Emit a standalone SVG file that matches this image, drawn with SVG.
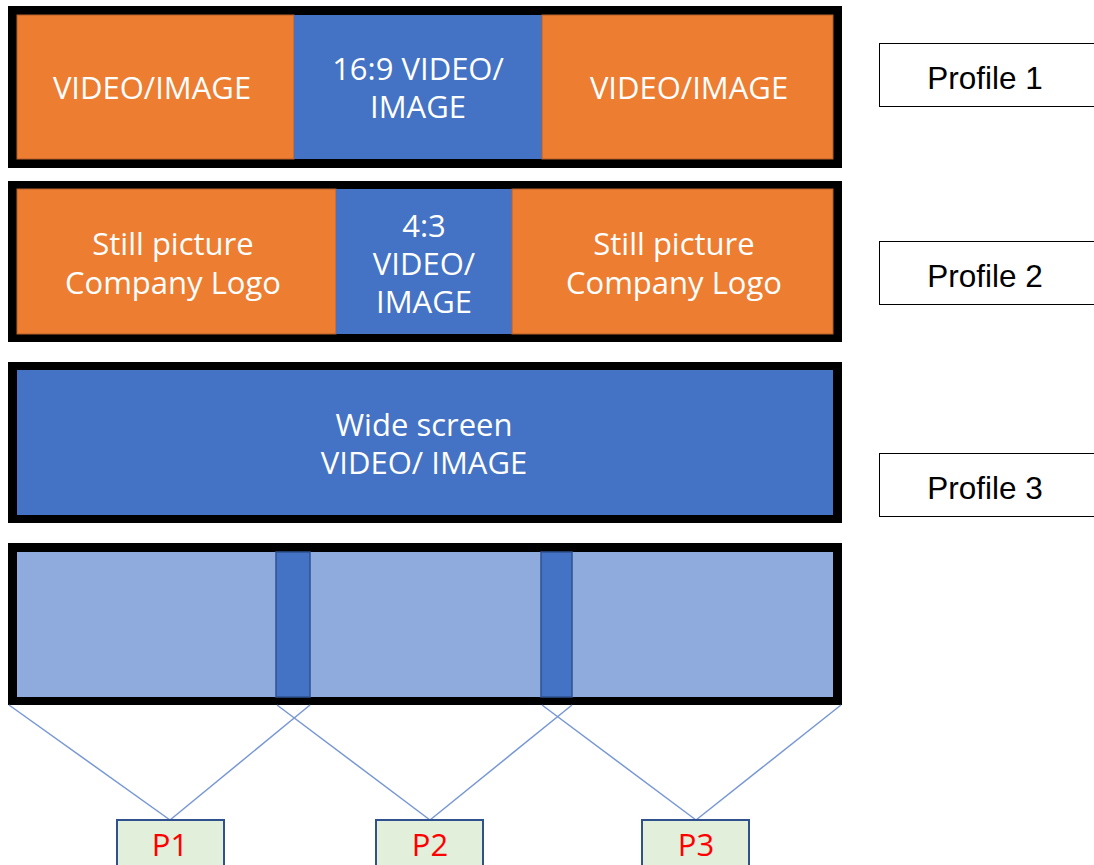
<svg xmlns="http://www.w3.org/2000/svg" width="1094" height="865" viewBox="0 0 1094 865">
<style>
.frame{fill:#000}
.org{fill:#ed7d31;stroke:#b5602a;stroke-width:1}
.blu{fill:#4472c4}
.lb{fill:#8faadc}
.strip{fill:#4472c4;stroke:#2f528f;stroke-width:1.5}
.t{font-family:"Open Sans","Noto Sans",sans-serif;font-size:31px;fill:#fff;text-anchor:middle}
.prof{fill:#fff;stroke:#000;stroke-width:1}
.pt{font-family:"Liberation Sans",Arial,sans-serif;font-size:31.5px;fill:#000;text-anchor:middle}
.pbox{fill:#e2efda;stroke:#2f528f;stroke-width:2}
.ptxt{font-family:"Open Sans","Noto Sans",sans-serif;font-size:31px;fill:#ff0000;text-anchor:middle}
.conn{stroke:#7898d4;stroke-width:1.5;fill:none}
</style>
<rect width="1094" height="865" fill="#fff"/>
<g id="profile1-screen">
<rect class="frame" x="8" y="6" width="834" height="162"/>
<rect class="org" x="17" y="15" width="277" height="144"/>
<rect class="blu" x="294" y="15" width="248" height="144"/>
<rect class="org" x="542" y="15" width="291" height="144"/>
<text class="t" x="152" y="99">VIDEO/IMAGE</text>
<text class="t" x="418" y="80">16:9 VIDEO/</text>
<text class="t" x="418" y="118">IMAGE</text>
<text class="t" x="689" y="99">VIDEO/IMAGE</text>
</g>
<g id="profile2-screen">
<rect class="frame" x="8" y="181" width="834" height="161"/>
<rect class="org" x="17" y="189" width="319" height="145"/>
<rect class="blu" x="336" y="189" width="176" height="145"/>
<rect class="org" x="512" y="189" width="321" height="145"/>
<text class="t" x="173" y="255">Still picture</text>
<text class="t" x="173" y="294">Company Logo</text>
<text class="t" x="424" y="237">4:3</text>
<text class="t" x="424" y="275">VIDEO/</text>
<text class="t" x="424" y="313">IMAGE</text>
<text class="t" x="674" y="255">Still picture</text>
<text class="t" x="674" y="294">Company Logo</text>
</g>
<g id="profile3-screen">
<rect class="frame" x="8" y="362" width="834" height="161"/>
<rect class="blu" x="17" y="370" width="816" height="145"/>
<text class="t" x="424" y="436">Wide screen</text>
<text class="t" x="424" y="474">VIDEO/ IMAGE</text>
</g>
<g id="split-screen">
<rect class="frame" x="8" y="543" width="834" height="162"/>
<rect class="lb" x="17" y="552" width="816" height="145"/>
<rect class="strip" x="276" y="552" width="34" height="145"/>
<rect class="strip" x="541" y="552" width="31" height="145"/>
</g>
<g id="profile1-label">
<rect class="prof" x="879.5" y="43.5" width="220" height="63"/>
<text class="pt" x="985" y="89">Profile 1</text>
</g>
<g id="profile2-label">
<rect class="prof" x="879.5" y="241.5" width="220" height="63"/>
<text class="pt" x="985" y="287">Profile 2</text>
</g>
<g id="profile3-label">
<rect class="prof" x="879.5" y="453.5" width="220" height="63"/>
<text class="pt" x="985" y="499">Profile 3</text>
</g>
<g id="connectors">
<line class="conn" x1="9" y1="705" x2="170" y2="820"/>
<line class="conn" x1="310" y1="705" x2="170" y2="820"/>
<line class="conn" x1="277" y1="705" x2="430" y2="820"/>
<line class="conn" x1="572" y1="705" x2="430" y2="820"/>
<line class="conn" x1="542" y1="705" x2="696" y2="820"/>
<line class="conn" x1="841" y1="705" x2="696" y2="820"/>
</g>
<g id="P1">
<rect class="pbox" x="117" y="820" width="107" height="60"/>
<text class="ptxt" x="170" y="856">P1</text>
</g>
<g id="P2">
<rect class="pbox" x="376" y="820" width="107" height="60"/>
<text class="ptxt" x="430" y="856">P2</text>
</g>
<g id="P3">
<rect class="pbox" x="642" y="820" width="107" height="60"/>
<text class="ptxt" x="696" y="856">P3</text>
</g>
</svg>
